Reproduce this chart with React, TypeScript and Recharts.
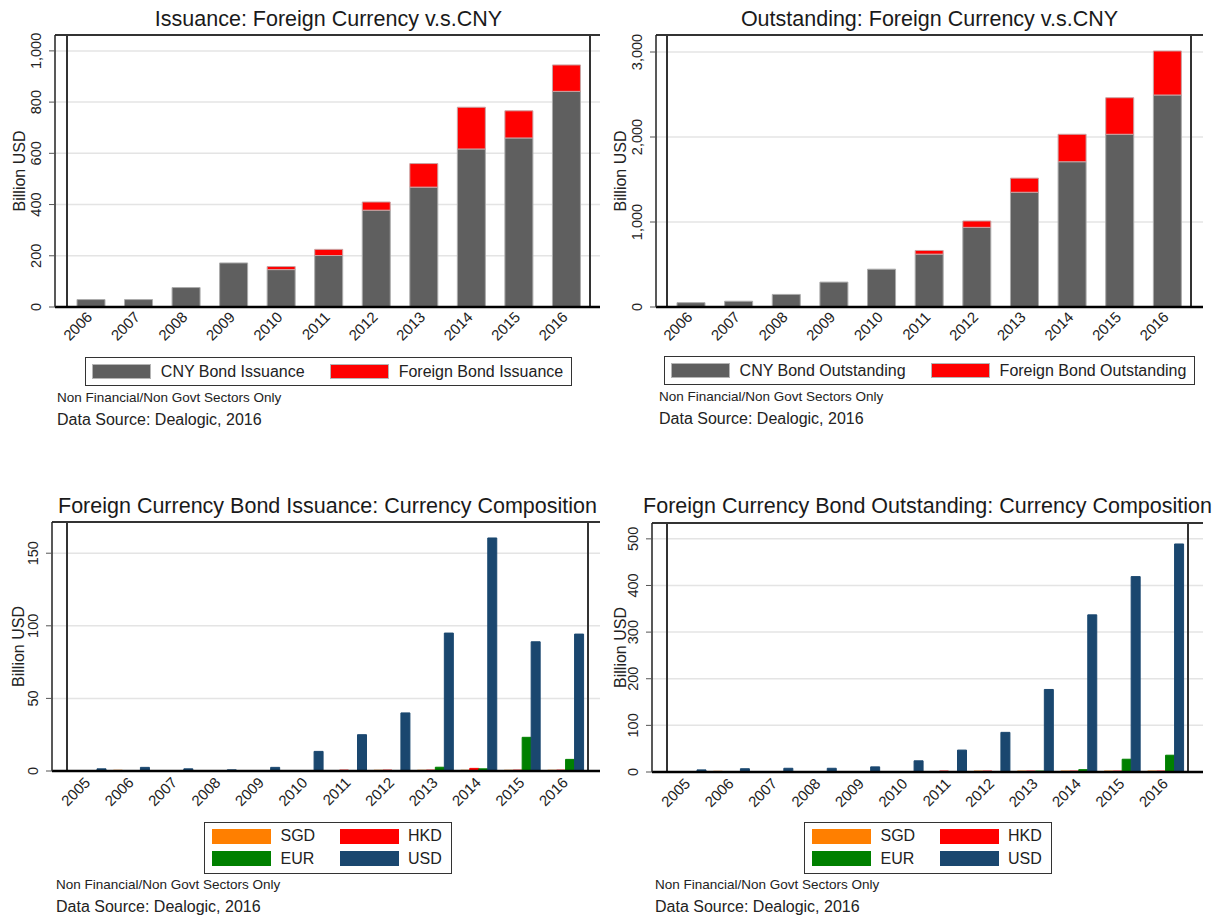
import React from 'react';
import { BarChart, Bar, XAxis, YAxis, CartesianGrid, ReferenceArea } from 'recharts';

const FONT = '"Liberation Sans", Arial, Helvetica, sans-serif';

// ---------- data ----------
const topYears = ['2006', '2007', '2008', '2009', '2010', '2011', '2012', '2013', '2014', '2015', '2016'];
const cnyIssuance = [29, 29, 76, 172, 146, 201, 378, 468, 617, 660, 842];
const foreignIssuance = [0, 0, 0, 0, 12, 24, 32, 92, 163, 106, 103];
const cnyOutstanding = [51, 68, 148, 293, 445, 622, 937, 1350, 1709, 2032, 2494];
const foreignOutstanding = [0, 0, 0, 0, 0, 43, 75, 166, 323, 430, 518];

const bottomYears = ['2005', '2006', '2007', '2008', '2009', '2010', '2011', '2012', '2013', '2014', '2015', '2016'];
const sgdIssuance = [0, 0.5, 0, 0, 0, 0, 0, 0.5, 0.5, 0.5, 0.5, 0.5];
const hkdIssuance = [0, 0, 0, 0, 0, 0, 0.6, 0.6, 0.6, 1.8, 0.6, 0.6];
const eurIssuance = [0, 0, 0, 0, 0, 0, 0, 0, 2.6, 1.5, 23.2, 8];
const usdIssuance = [1.5, 2.5, 1.5, 0.8, 2.5, 13.5, 25, 40, 95, 160.5, 89, 94.3];

const sgdOutstanding = [0, 1.5, 0, 0, 0, 0, 0, 2, 2, 2, 2, 2];
const hkdOutstanding = [0, 0, 0, 0, 0, 0, 2, 2, 2, 2, 2, 2];
const eurOutstanding = [0, 0, 0, 0, 0, 0, 0, 0, 2, 5, 27.4, 36];
const usdOutstanding = [4.5, 7, 8, 8, 11, 24, 47, 85, 177, 337, 419, 489];

const issuanceTicks = [0, 200, 400, 600, 800, 1000];
const outstandingTicks = [0, 1000, 2000, 3000];
const compIssuanceTicks = [0, 50, 100, 150];
const compOutstandingTicks = [0, 100, 200, 300, 400, 500];

const GRAY = '#5f5f5f';
const RED = '#ff0000';
const ORANGE = '#ff7f00';
const GREEN = '#008000';
const NAVY = '#1a476f';

const issuanceData = topYears.map((year, i) => ({ year, cny: cnyIssuance[i], foreign: foreignIssuance[i] }));
const outstandingData = topYears.map((year, i) => ({ year, cny: cnyOutstanding[i], foreign: foreignOutstanding[i] }));
const compIssuanceData = bottomYears.map((year, i) => ({
  year, sgd: sgdIssuance[i], hkd: hkdIssuance[i], eur: eurIssuance[i], usd: usdIssuance[i],
}));
const compOutstandingData = bottomYears.map((year, i) => ({
  year, sgd: sgdOutstanding[i], hkd: hkdOutstanding[i], eur: eurOutstanding[i], usd: usdOutstanding[i],
}));

type Series = { key: string; name: string; color: string; stroke: string };

const topIssuanceSeries: Series[] = [
  { key: 'cny', name: 'CNY Bond Issuance', color: GRAY, stroke: '#ababab' },
  { key: 'foreign', name: 'Foreign Bond Issuance', color: RED, stroke: '#c9a3a3' },
];
const topOutstandingSeries: Series[] = [
  { key: 'cny', name: 'CNY Bond Outstanding', color: GRAY, stroke: '#ababab' },
  { key: 'foreign', name: 'Foreign Bond Outstanding', color: RED, stroke: '#c9a3a3' },
];
const currencySeries: Series[] = [
  { key: 'sgd', name: 'SGD', color: ORANGE, stroke: ORANGE },
  { key: 'hkd', name: 'HKD', color: RED, stroke: RED },
  { key: 'eur', name: 'EUR', color: GREEN, stroke: GREEN },
  { key: 'usd', name: 'USD', color: NAVY, stroke: NAVY },
];

// ---------- ticks ----------
const YTick = (props: any) => {
  const { x, y, payload } = props;
  const bx = x - 6;
  return (
    <text x={bx} y={y} transform={`rotate(-90 ${bx} ${y})`} textAnchor="middle" fontSize={14.5} fill="#222" fontFamily={FONT}>
      {Number(payload.value).toLocaleString('en-US')}
    </text>
  );
};

const makeXTick = (dy: number) => (props: any) => {
  const { x, y, payload } = props;
  const ax = x + 2.5;
  const ay = y + dy;
  return (
    <text x={ax} y={ay} transform={`rotate(-45 ${ax} ${ay})`} textAnchor="end" fontSize={15} fill="#222" fontFamily={FONT}>
      {payload.value}
    </text>
  );
};

const makeYLabel = (offset: number) => (props: any) => {
  const vb = props.viewBox || {};
  const bx = vb.x + vb.width - offset;
  const cy = vb.y + vb.height / 2;
  return (
    <text x={bx} y={cy} transform={`rotate(-90 ${bx} ${cy})`} textAnchor="middle" fontSize={16} fill="#222" fontFamily={FONT}>
      Billion USD
    </text>
  );
};

// ---------- legends ----------
const Swatch = ({ color, bordered }: { color: string; bordered?: boolean }) => (
  <div style={{ width: 59, height: 15, background: color, boxSizing: 'border-box', border: bordered ? '1px solid #b5b5b5' : 'none', flex: 'none' }} />
);

const RowLegend = ({ series }: { series: Series[] }) => (
  <div style={{ display: 'flex', alignItems: 'center', height: 29, boxSizing: 'border-box', border: '1.5px solid #333', padding: '0 8px 0 6px', background: '#fff' }}>
    {series.map((s, i) => (
      <div key={s.key} style={{ display: 'flex', alignItems: 'center', marginLeft: i === 0 ? 0 : 25 }}>
        <Swatch color={s.color} bordered />
        <span style={{ marginLeft: 10, fontSize: 16, color: '#222', whiteSpace: 'nowrap' }}>{s.name}</span>
      </div>
    ))}
  </div>
);

const GridLegend = ({ series }: { series: Series[] }) => (
  <div style={{ display: 'grid', gridTemplateColumns: 'auto auto', columnGap: 24, rowGap: 7.7, boxSizing: 'border-box', border: '1.5px solid #333', padding: '5.5px 7.5px 6.5px 7.5px', background: '#fff' }}>
    {series.map((s) => (
      <div key={s.key} style={{ display: 'flex', alignItems: 'center', height: 15 }}>
        <Swatch color={s.color} />
        <span style={{ marginLeft: 9.5, fontSize: 16, color: '#222', whiteSpace: 'nowrap', width: 35 }}>{s.name}</span>
      </div>
    ))}
  </div>
);

// ---------- panel ----------
type PanelProps = {
  left: number; top: number; clipWidth: number; chartWidth: number;
  plotLeft: number; plotRight: number; plotTop: number; plotBottom: number;
  title: string; titleTop: number;
  data: any[]; series: Series[]; ticks: number[]; yMax: number;
  stacked: boolean; padX: { left: number; right: number };
  xTickDy: number; yLabelOffset: number;
  legendTop: number; notesTop: [number, number]; notesLeft: number;
};

const Panel = (p: PanelProps) => {
  const H = 440;
  const XH = 30;
  const plotW = p.plotRight - p.plotLeft;
  const XTick = makeXTick(p.xTickDy);
  const YLabel = makeYLabel(p.yLabelOffset);
  return (
    <div style={{ position: 'absolute', left: p.left, top: p.top, width: p.clipWidth, height: H, overflow: 'hidden', fontFamily: FONT, background: '#fff' }}>
      <div style={{ position: 'absolute', left: p.plotLeft, width: plotW, top: p.titleTop, fontSize: 21.5, lineHeight: '24px', color: '#1a1a1a', display: 'flex', justifyContent: 'center' }}>
        <span style={{ whiteSpace: 'nowrap' }}>{p.title}</span>
      </div>
      <div style={{ position: 'absolute', left: 0, top: 0 }}>
        <BarChart
          width={p.chartWidth}
          height={H}
          data={p.data}
          margin={{ top: p.plotTop, right: p.chartWidth - p.plotRight, left: 0, bottom: H - p.plotBottom - XH }}
          barGap={0}
          barCategoryGap={p.stacked ? '21%' : 3}
        >
          <CartesianGrid vertical={false} stroke="#e4e4e4" strokeWidth={1.5} />
          <CartesianGrid vertical={false} horizontalValues={[p.yMax]} stroke="#333" strokeWidth={2} />
          <ReferenceArea y1={0} y2={p.yMax} fill="none" fillOpacity={0} stroke="#333" strokeWidth={2} ifOverflow="visible" />
          <XAxis
            dataKey="year"
            height={XH}
            padding={p.padX}
            tickLine={false}
            tickSize={0}
            tickMargin={0}
            interval={0}
            axisLine={{ stroke: '#000', strokeWidth: 2.5 }}
            tick={<XTick />}
          />
          <YAxis
            width={p.plotLeft}
            domain={[0, p.yMax]}
            ticks={p.ticks}
            interval={0}
            tickSize={6}
            tickMargin={2}
            tickLine={{ stroke: '#555' }}
            axisLine={{ stroke: '#222', strokeWidth: 1.5 }}
            tick={<YTick />}
            label={<YLabel />}
          />
          {p.series.map((s) => (
            <Bar
              key={s.key}
              dataKey={s.key}
              name={s.name}
              stackId={p.stacked ? 'stack' : undefined}
              fill={s.color}
              stroke={s.stroke}
              strokeWidth={1}
              isAnimationActive={false}
            />
          ))}
        </BarChart>
      </div>
      <div style={{ position: 'absolute', left: p.plotLeft, width: plotW, top: p.legendTop, display: 'flex', justifyContent: 'center' }}>
        {p.stacked ? <RowLegend series={p.series} /> : <GridLegend series={p.series} />}
      </div>
      <div style={{ position: 'absolute', left: p.notesLeft, top: p.notesTop[0], fontSize: 13.5, lineHeight: '16px', color: '#222', whiteSpace: 'nowrap' }}>
        Non Financial/Non Govt Sectors Only
      </div>
      <div style={{ position: 'absolute', left: p.notesLeft, top: p.notesTop[1], fontSize: 16, lineHeight: '18px', color: '#222', whiteSpace: 'nowrap' }}>
        Data Source: Dealogic, 2016
      </div>
    </div>
  );
};

export default function App() {
  return (
    <div style={{ position: 'absolute', left: 0, top: 0, width: 1225, height: 920, background: '#fff', overflow: 'hidden' }}>
      <Panel
        left={0} top={0} clipWidth={600} chartWidth={610}
        plotLeft={55} plotRight={602} plotTop={35} plotBottom={307}
        title="Issuance: Foreign Currency v.s.CNY" titleTop={7}
        data={issuanceData} series={topIssuanceSeries} ticks={issuanceTicks} yMax={1062}
        stacked padX={{ left: 12, right: 12 }} xTickDy={11} yLabelOffset={30.5}
        legendTop={357} notesTop={[390, 410.5]} notesLeft={57}
      />
      <Panel
        left={600} top={0} clipWidth={625} chartWidth={625}
        plotLeft={56} plotRight={603} plotTop={35} plotBottom={307}
        title="Outstanding: Foreign Currency v.s.CNY" titleTop={7}
        data={outstandingData} series={topOutstandingSeries} ticks={outstandingTicks} yMax={3200}
        stacked padX={{ left: 11, right: 12 }} xTickDy={11} yLabelOffset={30}
        legendTop={356} notesTop={[389, 409.8]} notesLeft={59}
      />
      <Panel
        left={0} top={480} clipWidth={600} chartWidth={610}
        plotLeft={52} plotRight={603} plotTop={42} plotBottom={291}
        title="Foreign Currency Bond Issuance: Currency Composition" titleTop={14}
        data={compIssuanceData} series={currencySeries} ticks={compIssuanceTicks} yMax={171.5}
        stacked={false} padX={{ left: 15, right: 15 }} xTickDy={12.5} yLabelOffset={27.6}
        legendTop={342} notesTop={[397.3, 417.8]} notesLeft={56}
      />
      <Panel
        left={600} top={480} clipWidth={625} chartWidth={625}
        plotLeft={52} plotRight={603} plotTop={43} plotBottom={292}
        title="Foreign Currency Bond Outstanding: Currency Composition" titleTop={14}
        data={compOutstandingData} series={currencySeries} ticks={compOutstandingTicks} yMax={534}
        stacked={false} padX={{ left: 15, right: 15 }} xTickDy={12.5} yLabelOffset={26}
        legendTop={342} notesTop={[397.3, 417.8]} notesLeft={55}
      />
    </div>
  );
}
